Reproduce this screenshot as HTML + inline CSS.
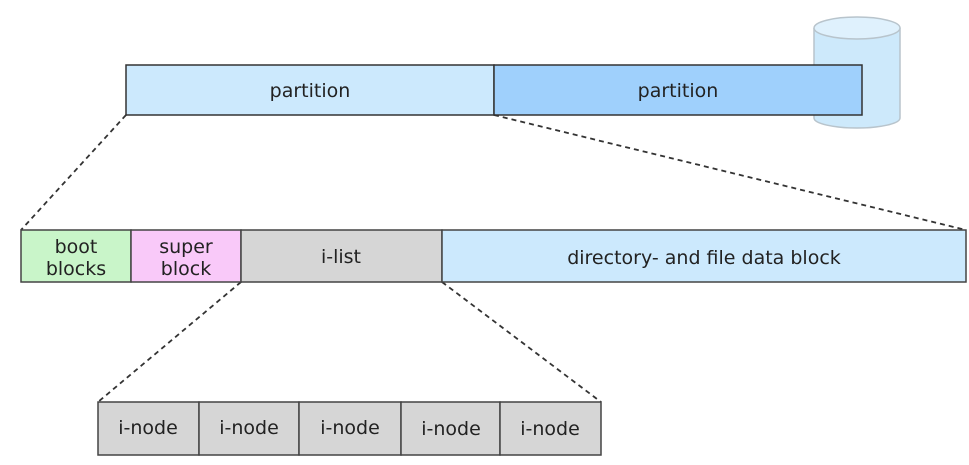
<!DOCTYPE html>
<html><head><meta charset="utf-8"><style>
html,body{margin:0;padding:0;background:#fff;}
svg text{font-family:"DejaVu Sans","Liberation Sans",sans-serif;font-size:19px;fill:#222;text-anchor:middle;}
</style></head><body>
<svg width="969" height="460" viewBox="0 0 969 460" xmlns="http://www.w3.org/2000/svg">
<path d="M814 28 L814 118 A43 10 0 0 0 900 118 L900 28" fill="#cde9fb" stroke="#b8c4cc" stroke-width="1.5"/>
<ellipse cx="857" cy="28" rx="43" ry="11" fill="#dff1fd" stroke="#b8c4cc" stroke-width="1.5"/>
<rect x="126" y="65" width="368" height="50" fill="#cce9fd" stroke="#333" stroke-width="1.5"/>
<rect x="494" y="65" width="368" height="50" fill="#9fd0fc" stroke="#333" stroke-width="1.5"/>
<text x="310" y="97">partition</text>
<text x="678" y="97">partition</text>
<g stroke="#333" stroke-width="1.8" stroke-dasharray="5,4" fill="none">
<line x1="126" y1="115" x2="21" y2="230"/>
<line x1="494" y1="115" x2="966" y2="230"/>
<line x1="241" y1="282" x2="98" y2="402"/>
<line x1="442" y1="282" x2="601" y2="402"/>
</g>
<rect x="21" y="230" width="110" height="52" fill="#c9f5c9" stroke="#444" stroke-width="1.5"/>
<rect x="131" y="230" width="110" height="52" fill="#f9c9f9" stroke="#444" stroke-width="1.5"/>
<rect x="241" y="230" width="201" height="52" fill="#d6d6d6" stroke="#444" stroke-width="1.5"/>
<rect x="442" y="230" width="524" height="52" fill="#cce9fd" stroke="#444" stroke-width="1.5"/>
<text x="76" y="253">boot</text><text x="76" y="275">blocks</text>
<text x="186" y="253">super</text><text x="186" y="275">block</text>
<text x="341" y="263">i-list</text>
<text x="704" y="264">directory- and file data block</text>
<g fill="#d6d6d6" stroke="#444" stroke-width="1.5">
<rect x="98" y="402" width="101" height="53"/>
<rect x="199" y="402" width="100" height="53"/>
<rect x="299" y="402" width="102" height="53"/>
<rect x="401" y="402" width="99" height="53"/>
<rect x="500" y="402" width="101" height="53"/>
</g>
<text x="148" y="434">i-node</text>
<text x="249" y="434">i-node</text>
<text x="350" y="434">i-node</text>
<text x="451" y="435">i-node</text>
<text x="550" y="435">i-node</text>
</svg>
</body></html>
